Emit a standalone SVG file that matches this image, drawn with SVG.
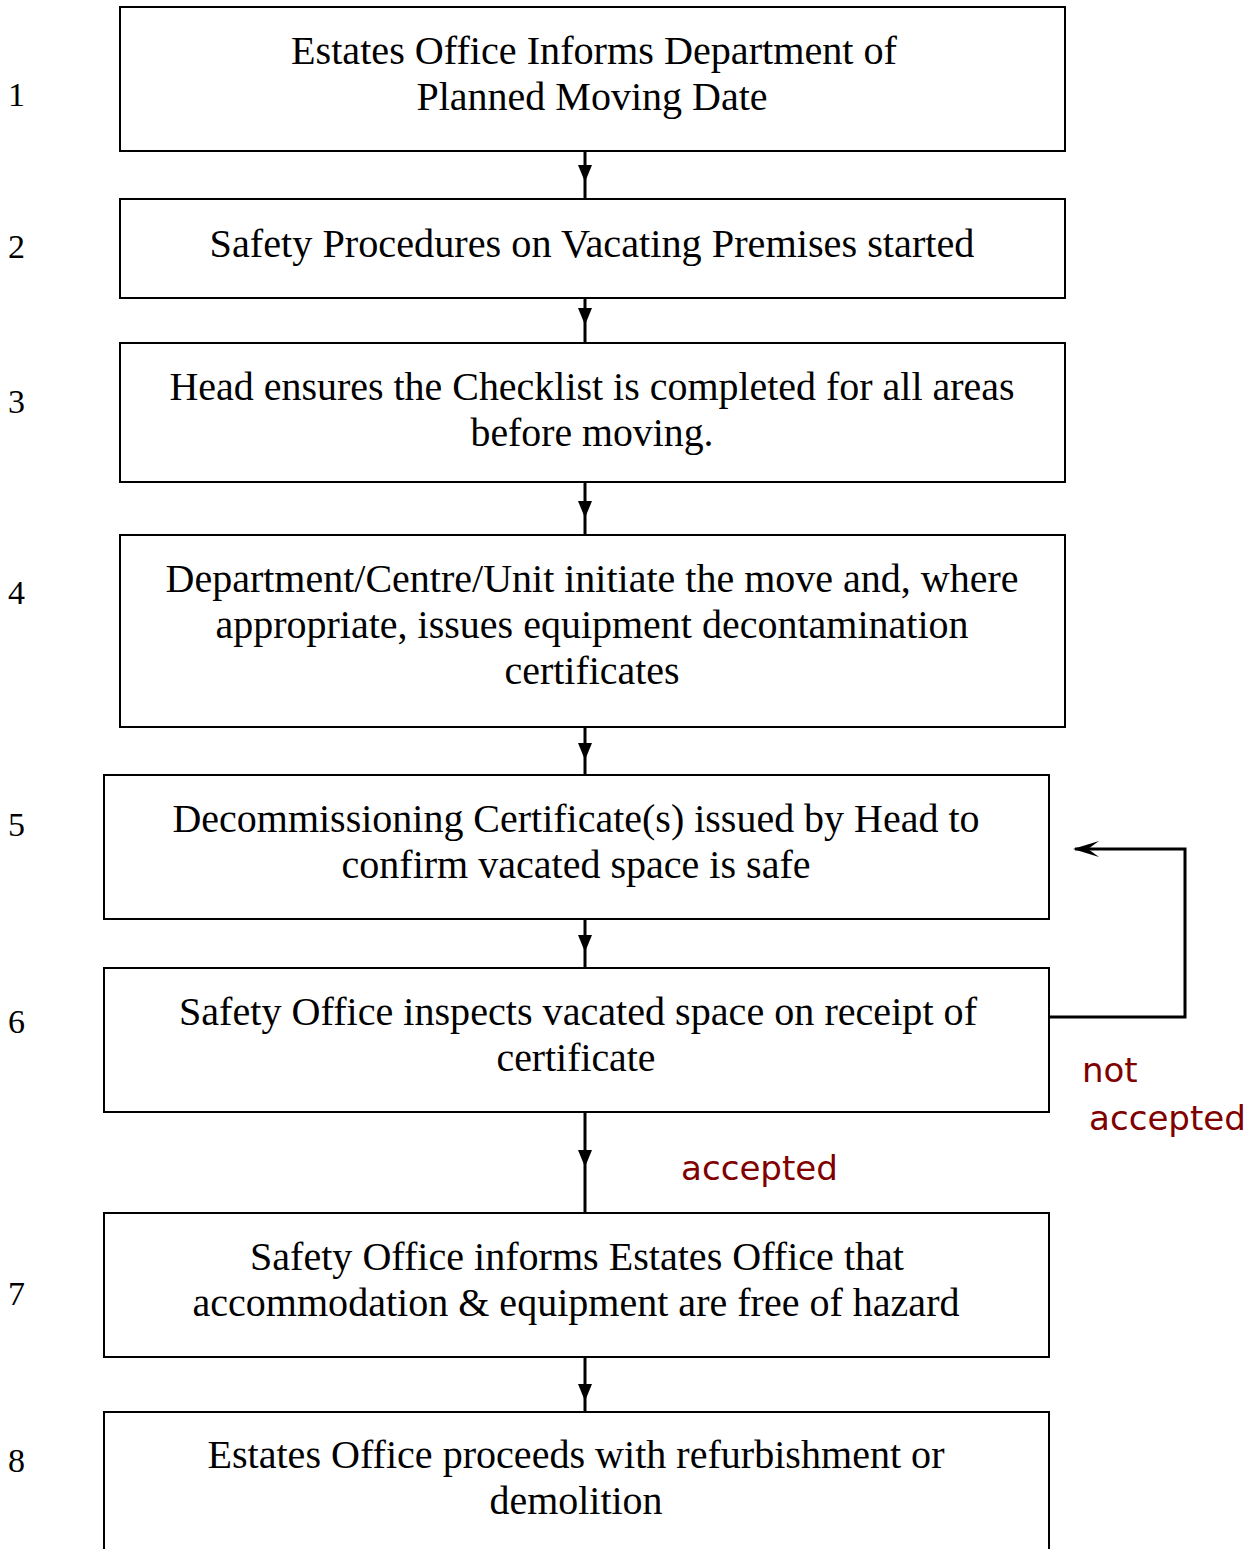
<svg xmlns="http://www.w3.org/2000/svg" width="1254" height="1549" viewBox="0 0 1254 1549">
<style>
.box{fill:#fff;stroke:#000;stroke-width:2}
.t{font-family:"Liberation Serif","Times New Roman",serif;font-size:39px;fill:#000;text-anchor:middle}
.n{font-family:"Liberation Serif","Times New Roman",serif;font-size:34px;fill:#000}
.c{stroke:#000;stroke-width:3;fill:none}
.ah{fill:#000}
.lbl{font-family:"Comic Sans MS","DejaVu Sans",sans-serif;font-size:34px;fill:#800000}
</style>
<rect width="1254" height="1549" fill="#fff"/>
<g id="numbers">
<text class="n" x="8" y="106">1</text>
<text class="n" x="8" y="258">2</text>
<text class="n" x="8" y="413">3</text>
<text class="n" x="8" y="604">4</text>
<text class="n" x="8" y="836">5</text>
<text class="n" x="8" y="1033">6</text>
<text class="n" x="8" y="1305">7</text>
<text class="n" x="8" y="1472">8</text>
</g>
<g id="node1">
<rect class="box" x="120" y="7" width="945" height="144"/>
<text class="t" x="594" y="64" textLength="606" lengthAdjust="spacingAndGlyphs">Estates Office Informs Department of</text>
<text class="t" x="592" y="110" textLength="351" lengthAdjust="spacingAndGlyphs">Planned Moving Date</text>
</g>
<g id="node2">
<rect class="box" x="120" y="199" width="945" height="99"/>
<text class="t" x="592" y="257" textLength="765" lengthAdjust="spacingAndGlyphs">Safety Procedures on Vacating Premises started</text>
</g>
<g id="node3">
<rect class="box" x="120" y="343" width="945" height="139"/>
<text class="t" x="592" y="400" textLength="845" lengthAdjust="spacingAndGlyphs">Head ensures the Checklist is completed for all areas</text>
<text class="t" x="592" y="446" textLength="243" lengthAdjust="spacingAndGlyphs">before moving.</text>
</g>
<g id="node4">
<rect class="box" x="120" y="535" width="945" height="192"/>
<text class="t" x="592" y="592" textLength="853" lengthAdjust="spacingAndGlyphs">Department/Centre/Unit initiate the move and, where</text>
<text class="t" x="592" y="638" textLength="753" lengthAdjust="spacingAndGlyphs">appropriate, issues equipment decontamination</text>
<text class="t" x="592" y="684" textLength="175" lengthAdjust="spacingAndGlyphs">certificates</text>
</g>
<g id="node5">
<rect class="box" x="104" y="775" width="945" height="144"/>
<text class="t" x="576" y="832" textLength="807" lengthAdjust="spacingAndGlyphs">Decommissioning Certificate(s) issued by Head to</text>
<text class="t" x="576" y="878" textLength="469" lengthAdjust="spacingAndGlyphs">confirm vacated space is safe</text>
</g>
<g id="node6">
<rect class="box" x="104" y="968" width="945" height="144"/>
<text class="t" x="578" y="1025" textLength="798" lengthAdjust="spacingAndGlyphs">Safety Office inspects vacated space on receipt of</text>
<text class="t" x="576" y="1071" textLength="159" lengthAdjust="spacingAndGlyphs">certificate</text>
</g>
<g id="node7">
<rect class="box" x="104" y="1213" width="945" height="144"/>
<text class="t" x="577" y="1270" textLength="654" lengthAdjust="spacingAndGlyphs">Safety Office informs Estates Office that</text>
<text class="t" x="576" y="1316" textLength="767" lengthAdjust="spacingAndGlyphs">accommodation &amp; equipment are free of hazard</text>
</g>
<g id="node8">
<rect class="box" x="104" y="1412" width="945" height="160"/>
<text class="t" x="576" y="1468" textLength="737" lengthAdjust="spacingAndGlyphs">Estates Office proceeds with refurbishment or</text>
<text class="t" x="576" y="1514" textLength="173" lengthAdjust="spacingAndGlyphs">demolition</text>
</g>
<g id="connectors">
<line class="c" x1="585" y1="151" x2="585" y2="199"/>
<polygon class="ah" points="578,165 592,165 585,182"/>
<line class="c" x1="585" y1="298" x2="585" y2="343"/>
<polygon class="ah" points="578,308 592,308 585,325"/>
<line class="c" x1="585" y1="482" x2="585" y2="535"/>
<polygon class="ah" points="578,501 592,501 585,518"/>
<line class="c" x1="585" y1="727" x2="585" y2="775"/>
<polygon class="ah" points="578,743 592,743 585,760"/>
<line class="c" x1="585" y1="919" x2="585" y2="968"/>
<polygon class="ah" points="578,935 592,935 585,952"/>
<line class="c" x1="585" y1="1112" x2="585" y2="1213"/>
<polygon class="ah" points="578,1150 592,1150 585,1167"/>
<line class="c" x1="585" y1="1357" x2="585" y2="1412"/>
<polygon class="ah" points="578,1384 592,1384 585,1401"/>
<polyline class="c" points="1049,1017 1185,1017 1185,849 1075,849"/>
<polygon class="ah" points="1073,849 1099,841 1088,849 1099,857"/>
<text class="lbl" x="1082" y="1082">not</text>
<text class="lbl" x="1089" y="1130" textLength="157" lengthAdjust="spacingAndGlyphs">accepted</text>
<text class="lbl" x="681" y="1180" textLength="157" lengthAdjust="spacingAndGlyphs">accepted</text>
</g>
</svg>
